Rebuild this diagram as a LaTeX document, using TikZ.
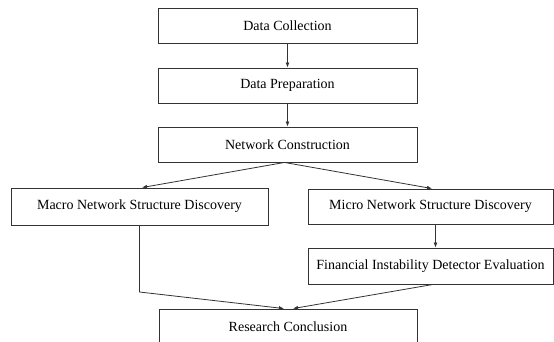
\documentclass[tikz,border=0pt]{standalone}
\usepackage{fontspec}
\setmainfont{Liberation Serif}
\usetikzlibrary{arrows.meta}
\tikzset{
	stepbox/.style={draw=black!80, line width=0.9pt, rectangle, inner sep=0pt, minimum height=35pt, font=\fontsize{14}{16}\selectfont},
	flow/.style={draw=black!80, line width=0.8pt, -{Latex[length=5pt,width=4pt]}}
}

\begin{document}
\begin{tikzpicture}[x=1pt,y=-1pt]
		%%%%% START %%%%%
		\useasboundingbox (0,0) rectangle (554,341);
		
		\node[stepbox, minimum width=259pt] (collect) at (287.5,26) {Data Collection};
		\node[stepbox, minimum width=259pt] (prep) at (287.5,85.5) {Data Preparation};
		\node[stepbox, minimum width=259pt] (construct) at (287.5,144.5) {Network Construction};
		
		\node[stepbox, minimum width=257pt, minimum height=37pt] (macro) at (139.5,206.5) {Macro Network Structure Discovery};
		\node[stepbox, minimum width=245pt] (micro) at (430.5,206.5) {Micro Network Structure Discovery};
		\node[stepbox, minimum width=245pt, minimum height=36pt] (detector) at (430.5,266) {Financial Instability Detector Evaluation};
		
		\node[stepbox, minimum width=258pt, minimum height=36pt] (conclusion) at (288,327) {Research Conclusion};
		
		\draw[flow] (collect) -- (prep);
		\draw[flow] (prep) -- (construct);
		
		\draw[flow] ([xshift=-3pt]construct.south) -- ([xshift=2.5pt]macro.north);
		\draw[flow] ([xshift=-3pt]construct.south) -- ([xshift=1.5pt]micro.north);
		\draw[flow] ([xshift=5pt]micro.south) -- ([xshift=5pt]detector.north);
		
		\coordinate (bend) at (139.5,292);
		\draw[flow] (macro.south) -- (bend) -- ([xshift=-4pt]conclusion.north);
		\draw[flow] ([xshift=2.5pt]detector.south) -- ([xshift=5pt]conclusion.north);
		
		%%%%% END %%%%%
\end{tikzpicture}
\end{document}
